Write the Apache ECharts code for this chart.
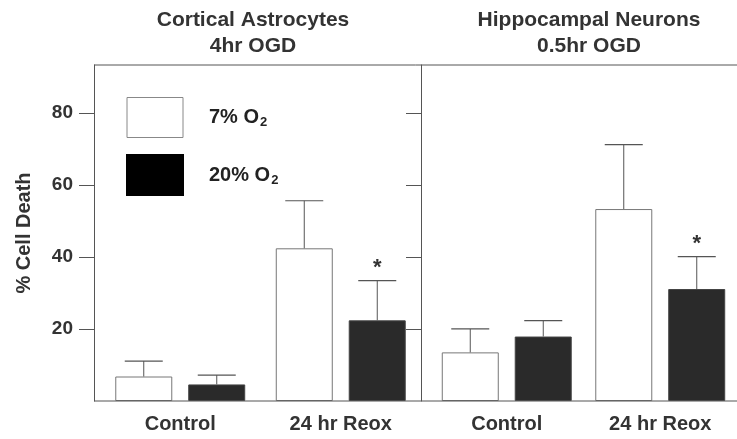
<!DOCTYPE html>
<html>
<head>
<meta charset="utf-8">
<script src="https://cdn.jsdelivr.net/npm/echarts@6/dist/echarts.min.js"></script>
<style>
  html, body { margin: 0; padding: 0; background: #fff; }
  #chart { width: 737px; height: 439px; }
</style>
</head>
<body>
<div id="chart"></div>
<script>
// categories and values (mean % cell death, upper SEM)
const categories = ['Control', '24 hr Reox']
const yTicks = [20, 40, 60, 80]

const astroLow = [6.8, 42.4]
const astroLowErr = [4.3, 13.2]
const astroHigh = [4.6, 22.4]
const astroHighErr = [2.6, 11.0]
const astroSig = ['', '*']

const neuroLow = [13.5, 53.3]
const neuroLowErr = [6.5, 17.9]
const neuroHigh = [17.9, 31.1]
const neuroHighErr = [4.4, 9.0]
const neuroSig = ['', '*']

const FONT = '"Liberation Sans", Arial, sans-serif'
const INK = '#333'
const LINE = '#555'
const BAR_W = 57
const BAR_SHIFT = 36.5

const chart = echarts.init(document.getElementById('chart'))

// upper error bars (+ significance mark) drawn from the data
const errorSeries = (gridIdx, means, errs, sig, shift) => ({
  type: 'custom',
  xAxisIndex: gridIdx,
  yAxisIndex: gridIdx,
  silent: true,
  z: 5,
  data: means.map((m, i) => [i, m, m + errs[i]]),
  renderItem: (params, api) => {
    const base = api.coord([api.value(0), api.value(1)])
    const top = api.coord([api.value(0), api.value(2)])
    const x = base[0] + shift
    const children = [
      { type: 'line', shape: { x1: x, y1: base[1], x2: x, y2: top[1] }, style: { stroke: LINE, lineWidth: 1 } },
      { type: 'line', shape: { x1: x - 19, y1: top[1], x2: x + 19, y2: top[1] }, style: { stroke: LINE, lineWidth: 1.2 } }
    ]
    const mark = sig[params.dataIndex]
    if (mark) {
      children.push({
        type: 'text',
        style: { text: mark, x: x, y: top[1] - 2, align: 'center', verticalAlign: 'bottom', font: 'bold 22px ' + FONT, fill: INK }
      })
    }
    return { type: 'group', children }
  }
})

const lowStyle = { color: '#fff', borderColor: '#777', borderWidth: 1 }
const highStyle = { color: '#2a2a2a', borderColor: '#444', borderWidth: 1 }

const yAxisBase = (gridIdx, offset, showLabels) => ({
  type: 'value',
  gridIndex: gridIdx,
  offset: offset,
  min: 0,
  max: 93.3,
  interval: 20,
  splitLine: { show: false },
  axisLine: { show: true, lineStyle: { color: LINE, width: 1 } },
  axisTick: { show: true, length: 15, customValues: yTicks, lineStyle: { color: LINE } },
  axisLabel: {
    show: showLabels,
    customValues: yTicks,
    margin: 21,
    fontSize: 19,
    fontWeight: 'bold',
    fontFamily: FONT,
    color: INK
  }
})

const xAxisBase = (gridIdx) => ({
  type: 'category',
  gridIndex: gridIdx,
  data: categories,
  axisLine: { show: false },
  axisTick: { show: false },
  axisLabel: { margin: 13, fontSize: 20, fontWeight: 'bold', fontFamily: FONT, color: INK }
})

const legendText = (name) => {
  const parts = name.split('O2')
  return '{t|' + parts[0] + 'O}{s|2}'
}

const option = {
  animation: false,
  backgroundColor: '#fff',
  grid: [
    { left: 100, top: 65, width: 321, height: 336 },
    { left: 430, top: 65, width: 317, height: 336 }
  ],
  legend: {
    orient: 'vertical',
    left: 126,
    top: 97,
    padding: 0,
    itemWidth: 56,
    itemHeight: 40,
    itemGap: 16,
    selectedMode: false,
    icon: 'rect',
    formatter: legendText,
    textStyle: {
      rich: {
        t: { fontSize: 20, fontWeight: 'bold', fontFamily: FONT, color: '#222', padding: [0, 0, 0, 21] },
        s: { fontSize: 13, fontWeight: 'bold', fontFamily: FONT, color: '#222', verticalAlign: 'bottom', padding: [10, 0, 0, 1] }
      }
    },
    data: [
      { name: '7% O2', itemStyle: { color: '#fff', borderColor: '#888', borderWidth: 1 } },
      { name: '20% O2', itemStyle: { color: '#000', borderColor: '#000' } }
    ]
  },
  xAxis: [xAxisBase(0), xAxisBase(1)],
  yAxis: [
    Object.assign(yAxisBase(0, 6, true), {
      name: '% Cell Death',
      nameLocation: 'middle',
      nameGap: 60,
      nameTextStyle: { fontSize: 20, fontWeight: 'bold', fontFamily: FONT, color: INK }
    }),
    yAxisBase(1, 9, false)
  ],
  series: [
    { name: '7% O2', type: 'bar', xAxisIndex: 0, yAxisIndex: 0, data: astroLow, barWidth: BAR_W, barGap: '28%', itemStyle: lowStyle },
    { name: '20% O2', type: 'bar', xAxisIndex: 0, yAxisIndex: 0, data: astroHigh, barWidth: BAR_W, barGap: '28%', itemStyle: highStyle },
    { name: '7% O2', type: 'bar', xAxisIndex: 1, yAxisIndex: 1, data: neuroLow, barWidth: BAR_W, barGap: '28%', itemStyle: lowStyle },
    { name: '20% O2', type: 'bar', xAxisIndex: 1, yAxisIndex: 1, data: neuroHigh, barWidth: BAR_W, barGap: '28%', itemStyle: highStyle },
    errorSeries(0, astroLow, astroLowErr, ['', ''], -BAR_SHIFT),
    errorSeries(0, astroHigh, astroHighErr, astroSig, BAR_SHIFT),
    errorSeries(1, neuroLow, neuroLowErr, ['', ''], -BAR_SHIFT),
    errorSeries(1, neuroHigh, neuroHighErr, neuroSig, BAR_SHIFT)
  ],
  graphic: [
    // panel frame: top and bottom rules
    { type: 'line', shape: { x1: 94, y1: 65, x2: 737, y2: 65 }, style: { stroke: LINE, lineWidth: 1 }, z: 10 },
    { type: 'line', shape: { x1: 94, y1: 401, x2: 737, y2: 401 }, style: { stroke: LINE, lineWidth: 1.2 }, z: 10 },
    // panel titles
    { type: 'text', x: 253, y: 7, style: { text: 'Cortical Astrocytes\n4hr OGD', align: 'center', font: 'bold 21px ' + FONT, lineHeight: 26, fill: INK } },
    { type: 'text', x: 589, y: 7, style: { text: 'Hippocampal Neurons\n0.5hr OGD', align: 'center', font: 'bold 21px ' + FONT, lineHeight: 26, fill: INK } }
  ]
}

chart.setOption(option)
</script>
</body>
</html>
